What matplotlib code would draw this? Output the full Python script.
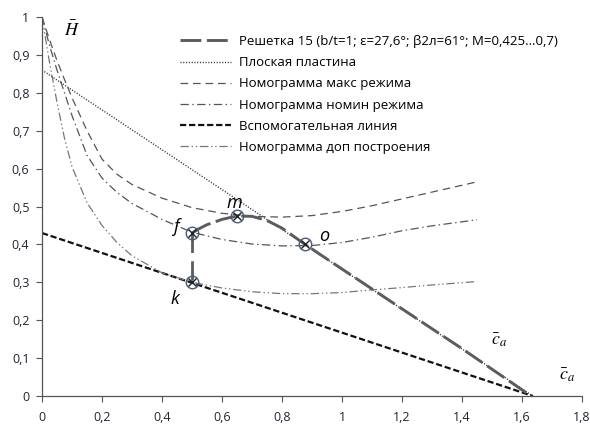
import matplotlib
matplotlib.use("Agg")
import matplotlib.pyplot as plt

plt.rcParams["font.family"] = ["Open Sans", "DejaVu Sans"]
plt.rcParams["mathtext.fontset"] = "stix"
plt.rcParams["lines.scale_dashes"] = False

# --- data -------------------------------------------------------------------
nom_ca = [0, 0.025, 0.05, 0.075, 0.1, 0.15, 0.2, 0.25, 0.3, 0.4, 0.5, 0.6, 0.7,
          0.8, 0.9, 1.0, 1.1, 1.2, 1.3, 1.45]

max_h = [1.0, 0.94, 0.885, 0.835, 0.787, 0.70, 0.625, 0.585, 0.558, 0.522, 0.497,
         0.482, 0.474, 0.472, 0.476, 0.487, 0.502, 0.52, 0.538, 0.565]
nomin_h = [1.0, 0.925, 0.86, 0.80, 0.74, 0.635, 0.575, 0.537, 0.508, 0.466, 0.432,
           0.413, 0.401, 0.396, 0.397, 0.405, 0.419, 0.436, 0.449, 0.465]
dop_h = [1.0, 0.88, 0.775, 0.68, 0.605, 0.51, 0.45, 0.405, 0.37, 0.325, 0.30,
         0.285, 0.275, 0.27, 0.27, 0.273, 0.28, 0.286, 0.293, 0.302]

plate_ca = [0, 1.636]
plate_h = [0.86, 0]

aux_ca = [0, 1.636]
aux_h = [0.43, 0]

lat_ca = [0.5, 0.52, 0.55, 0.6, 0.65, 0.7, 0.75, 0.8, 0.877, 1.0, 1.2, 1.4, 1.63]
lat_h = [0.43, 0.44, 0.452, 0.466, 0.475, 0.474, 0.463, 0.443, 0.40, 0.335,
         0.23, 0.125, 0.0]

fk_ca = [0.5, 0.5]
fk_h = [0.43, 0.30]

pt_names = ["f", "m", "o", "k"]
pt_ca = [0.5, 0.65, 0.877, 0.5]
pt_h = [0.43, 0.475, 0.40, 0.30]
lbl_ca = [0.446, 0.64, 0.94, 0.443]
lbl_h = [0.447, 0.508, 0.422, 0.255]

xticks = [0, 0.2, 0.4, 0.6, 0.8, 1.0, 1.2, 1.4, 1.6, 1.8]
yticks = [0, 0.1, 0.2, 0.3, 0.4, 0.5, 0.6, 0.7, 0.8, 0.9, 1.0]


def fmt(v):
    s = f"{v:.1f}".rstrip("0").rstrip(".")
    return s.replace(".", ",")


fig = plt.figure(figsize=(5.9, 4.28), dpi=100)
ax = fig.add_axes([42 / 590, 32 / 428, 540 / 590, 379 / 428])

grey = "#555555"
ax.plot(lat_ca, lat_h, color="#5c5c5c", lw=2.1, dashes=(15, 4),
        label="Решетка 15 (b/t=1; ε=27,6°; β2л=61°; M=0,425…0,7)", zorder=4)
ax.plot(plate_ca, plate_h, color="#333333", lw=1.0, dashes=(0.8, 1.2),
        label="Плоская пластина")
ax.plot(nom_ca, max_h, color=grey, lw=0.9, dashes=(5.5, 3.5),
        label="Номограмма макс режима")
ax.plot(nom_ca, nomin_h, color=grey, lw=0.9, dashes=(6, 2.5, 1, 2.5),
        label="Номограмма номин режима")
ax.plot(aux_ca, aux_h, color="#111111", lw=1.6, dashes=(4.5, 2),
        label="Вспомогательная линия")
ax.plot(nom_ca, dop_h, color="#777777", lw=0.9,
        dashes=(6, 2, 1, 2, 1, 2),
        label="Номограмма доп построения")

ax.plot(fk_ca, fk_h, color="#5c5c5c", lw=2.0, dashes=(14, 6), zorder=4)

ax.plot(pt_ca, pt_h, ls="none", marker="o", ms=9, mfc="none",
        mec="#4a5a80", mew=1.0, zorder=5)
ax.plot(pt_ca, pt_h, ls="none", marker="x", ms=5.5, color="#222222",
        mew=1.0, zorder=6)
for name, x, y in zip(pt_names, lbl_ca, lbl_h):
    ax.text(x, y, name, fontsize=13, style="italic", ha="center", va="center")

ax.text(0.1, 0.965, r"$\bar{H}$", fontsize=13, ha="center", va="center")
ax.text(1.525, 0.148, r"$\bar{c}_a$", fontsize=13, ha="center", va="center")
ax.text(1.75, 0.055, r"$\bar{c}_a$", fontsize=13, ha="center", va="center")

ax.set_xlim(0, 1.8)
ax.set_ylim(0, 1.0)
ax.set_xticks(xticks)
ax.set_xticklabels([fmt(v) for v in xticks])
ax.set_yticks(yticks)
ax.set_yticklabels([fmt(v) for v in yticks])
ax.tick_params(direction="out", length=4, width=0.8, color="#555555",
               labelsize=9, labelcolor="#1e2533")
ax.tick_params(axis="x", pad=7)
ax.tick_params(axis="y", pad=5)
for side in ["top", "right"]:
    ax.spines[side].set_visible(False)
for side in ["left", "bottom"]:
    ax.spines[side].set_color("#555555")
    ax.spines[side].set_linewidth(0.9)

ax.legend(loc="upper left", bbox_to_anchor=(180 / 590, 1 - 35 / 428),
          bbox_transform=fig.transFigure, frameon=False, fontsize=9.5,
          handlelength=3.9, handletextpad=0.6, labelspacing=0.62,
          borderpad=0, borderaxespad=0)

fig.savefig("out.png", dpi=100)
